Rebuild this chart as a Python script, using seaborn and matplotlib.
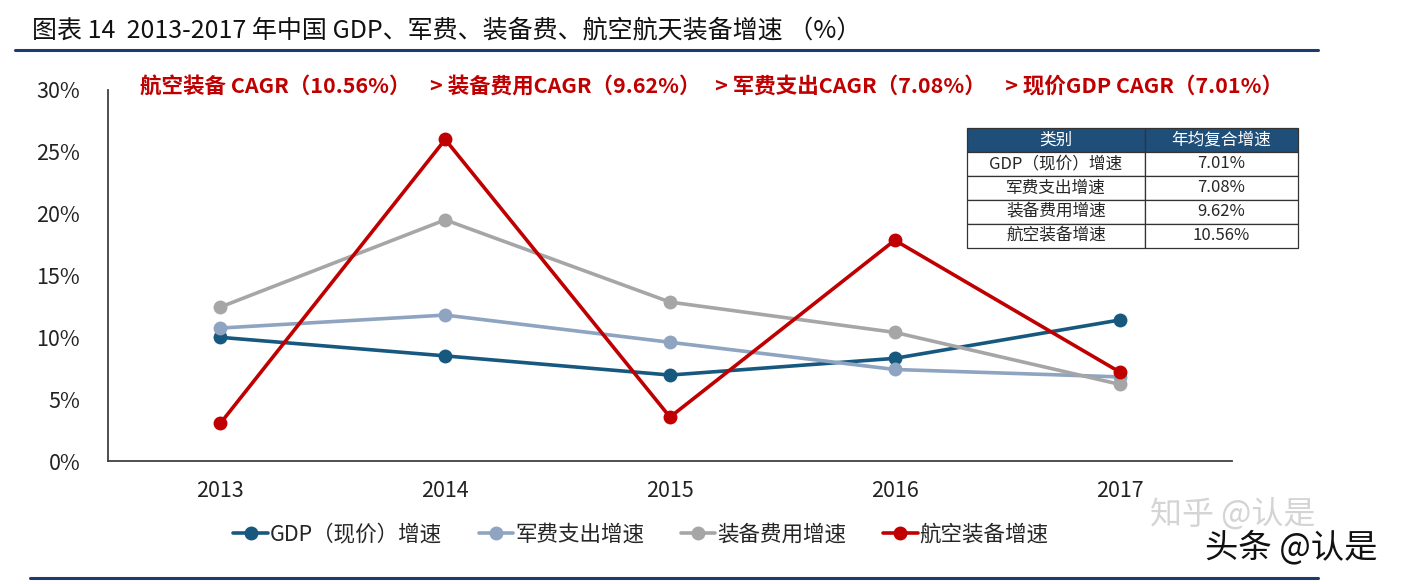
import pandas as pd
import matplotlib.pyplot as plt
from matplotlib.lines import Line2D
import seaborn as sns

sns.set_theme(style="white")
plt.rcParams["font.family"] = ["Noto Sans CJK SC", "DejaVu Sans"]

years = ["2013", "2014", "2015", "2016", "2017"]
series_names = ["GDP（现价）增速", "军费支出增速", "装备费用增速", "航空装备增速"]
gdp = [10.0, 8.5, 6.95, 8.3, 11.4]
military = [10.75, 11.8, 9.6, 7.4, 6.8]
equipment = [12.45, 19.5, 12.85, 10.4, 6.2]
aviation = [3.05, 26.0, 3.55, 17.85, 7.2]
colors = ["#17587f", "#8ea4c0", "#a6a6a6", "#c00000"]

table_header = ["类别", "年均复合增速"]
table_rows = [["GDP（现价）增速", "7.01%"],
              ["军费支出增速", "7.08%"],
              ["装备费用增速", "9.62%"],
              ["航空装备增速", "10.56%"]]
cagr_text = ("航空装备 CAGR（10.56%）    > 装备费用CAGR（9.62%）   > 军费支出CAGR（7.08%）    > 现价GDP CAGR（7.01%）")

df = pd.DataFrame({
    "year": years * 4,
    "series": [s for s in series_names for _ in years],
    "value": gdp + military + equipment + aviation,
})
df["x"] = df["year"].map({y: i for i, y in enumerate(years)})

W, H = 1411, 584
fig = plt.figure(figsize=(W / 100, H / 100), dpi=100)
ax = fig.add_axes([108 / W, 1 - 461 / H, (1232 - 108) / W, (461 - 90) / H])

sns.lineplot(data=df, x="x", y="value", hue="series", hue_order=series_names,
             palette=colors, marker="o", markersize=10, markeredgewidth=0,
             linewidth=2.6, ax=ax, legend=False)

ax.set_xlim(-0.5, 4.5)
ax.set_ylim(0, 30)
ax.set_xticks(range(len(years)))
ax.set_xticklabels(years)
ax.set_yticks(range(0, 31, 5))
ax.set_yticklabels([f"{v}%" for v in range(0, 31, 5)])
ax.tick_params(axis="both", labelsize=15.5, colors="#222222", length=0)
ax.tick_params(axis="x", pad=14)
ax.tick_params(axis="y", pad=20)
ax.set_xlabel("")
ax.set_ylabel("")
for side in ["top", "right"]:
    ax.spines[side].set_visible(False)
for side in ["left", "bottom"]:
    ax.spines[side].set_color("#404040")
    ax.spines[side].set_linewidth(1.3)

# CAGR headline
fig.text(140 / W, 1 - 87 / H, cagr_text, color="#c00000", fontsize=15.5,
         fontweight="bold", va="center", ha="left")

# legend
handles = [Line2D([0], [0], color=c, marker="o", markersize=9, linewidth=2.6)
           for c in colors]
fig.legend(handles, series_names, loc="center", bbox_to_anchor=(641 / W, 1 - 535 / H),
           ncol=4, frameon=False, fontsize=15.5, handlelength=1.6, handletextpad=0.1,
           columnspacing=1.7)

# table
tax = fig.add_axes([967 / W, 1 - 248 / H, (1298 - 967) / W, (248 - 128) / H])
tax.axis("off")
tbl = tax.table(cellText=table_rows, colLabels=table_header, cellLoc="center",
                bbox=[0, 0, 1, 1], colWidths=[178, 153])
tbl.auto_set_font_size(False)
for (r, c), cell in tbl.get_celld().items():
    cell.set_edgecolor("#333333")
    cell.set_linewidth(0.9)
    cell.get_text().set_fontsize(12)
    if r == 0:
        cell.set_facecolor("#1f4e79")
        cell.get_text().set_color("white")

# title and rules
fig.text(32 / W, 1 - 31 / H, "图表 14  2013-2017 年中国 GDP、军费、装备费、航空航天装备增速 （%）",
         fontsize=18, va="center", ha="left", color="#111111")
fig.add_artist(Line2D([15 / W, 1318 / W], [1 - 50 / H, 1 - 50 / H], color="#1f3a6e", linewidth=2.2))
fig.add_artist(Line2D([30 / W, 1318 / W], [1 - 578 / H, 1 - 578 / H], color="#1f3a6e", linewidth=2.2))

# watermarks
fig.text(1150 / W, 1 - 514 / H, "知乎 @认是", fontsize=23, color="#d4d4d4", va="center")
fig.text(1205 / W, 1 - 548 / H, "头条 @认是", fontsize=24, color="#111111", va="center")

fig.savefig("out.png", dpi=100)
plt.close(fig)
